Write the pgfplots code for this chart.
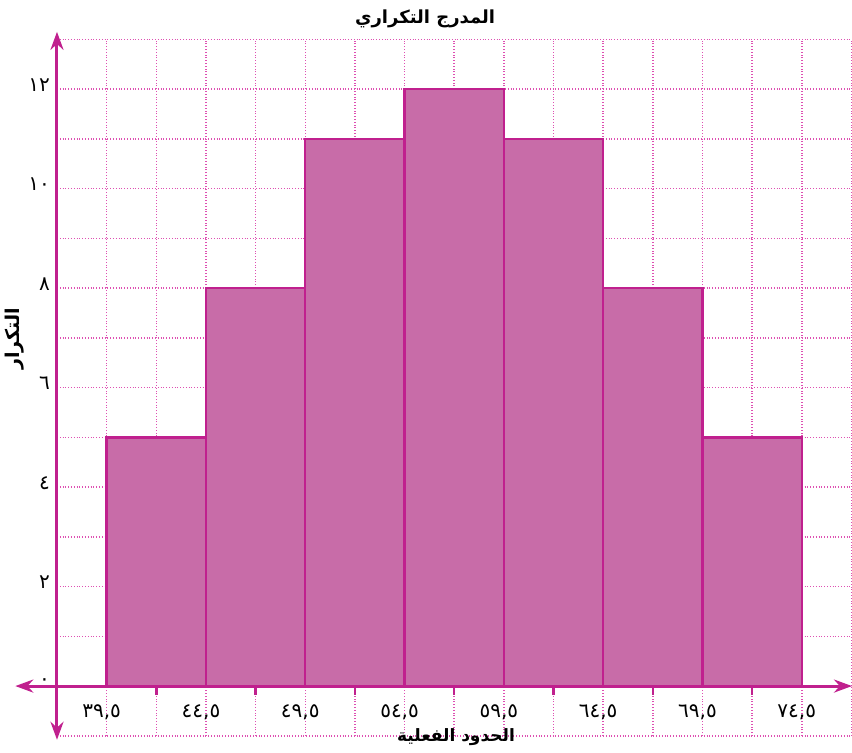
\documentclass[border=0pt]{standalone}
\usepackage{pgfplots}
\pgfplotsset{compat=1.18}
\usetikzlibrary{arrows.meta}
\usepackage{fontspec}
\setmainfont{DejaVu Sans}
\newfontfamily\arabicfont[Script=Arabic]{DejaVu Sans}
\TeXXeTstate=1
\definecolor{axc}{RGB}{192,32,142}
\definecolor{barfill}{RGB}{200,108,168}
\definecolor{gridc}{RGB}{222,80,178}
\begin{document}
\begin{tikzpicture}
\begin{axis}[
  x=9.93pt, y=24.875pt,
  xmin=37, xmax=77, ymin=-1, ymax=13,
  clip=false,
  axis line style={draw=none},
  xtick={39.5,44.5,49.5,54.5,59.5,64.5,69.5,74.5},
  xticklabels={{٣٩,٥},{٤٤,٥},{٤٩,٥},{٥٤,٥},{٥٩,٥},{٦٤,٥},{٦٩,٥},{٧٤,٥}},
  ytick={0,2,4,6,8,10,12},
  yticklabels={٠,٢,٤,٦,٨,١٠,١٢},
  extra x ticks={37,42,47,52,57,62,67,72,77},
  extra x tick labels={},
  extra y ticks={-1,1,3,5,7,9,11,13},
  extra y tick labels={},
  extra tick style={grid=major},
  grid=major,
  major grid style={gridc, densely dotted, line width=0.75pt},
  major tick length=0pt,
  xticklabel style={font=\arabicfont\fontsize{10}{11}\selectfont, anchor=center, yshift=12pt, xshift=-2.5pt},
  yticklabel style={font=\arabicfont\fontsize{10}{11}\selectfont, yshift=2pt},
]
\addplot[ybar interval, fill=barfill, draw=axc, line width=1.2pt] coordinates {
  (39.5,5) (44.5,8) (49.5,11) (54.5,12) (59.5,11) (64.5,8) (69.5,5) (74.5,5)
};
\draw[axc, line width=1.5pt, {Stealth[length=9pt,width=6.5pt]}-{Stealth[length=9pt,width=6.5pt]}] (axis cs:34.9,0) -- (axis cs:77.03,0);
\draw[axc, line width=1.5pt, {Stealth[length=9pt,width=6.5pt]}-{Stealth[length=9pt,width=6.5pt]}] (axis cs:37,-1.08) -- (axis cs:37,13.15);
\pgfplotsinvokeforeach{42,47,52,57,62,67,72}{
  \draw[axc, line width=1.2pt] (axis cs:#1,0) -- (axis cs:#1,-0.17);
}
\node[font=\arabicfont\bfseries\fontsize{9}{10}\selectfont] at (axis cs:55.53,13.42) {\beginR المدرج التكراري\endR};
\node[font=\arabicfont\bfseries\fontsize{8.5}{10}\selectfont] at (axis cs:57.09,-1.02) {\beginR الحدود الفعلية\endR};
\node[font=\arabicfont\bfseries\fontsize{9.5}{10}\selectfont, rotate=90] at (axis cs:34.89,6.98) {\beginR التكرار\endR};
\coordinate (bbA) at (axis cs:34.13,-1.327);
\coordinate (bbB) at (axis cs:77.03,13.79);
\end{axis}
\pgfresetboundingbox
\useasboundingbox (bbA) rectangle (bbB);
\end{tikzpicture}
\end{document}
